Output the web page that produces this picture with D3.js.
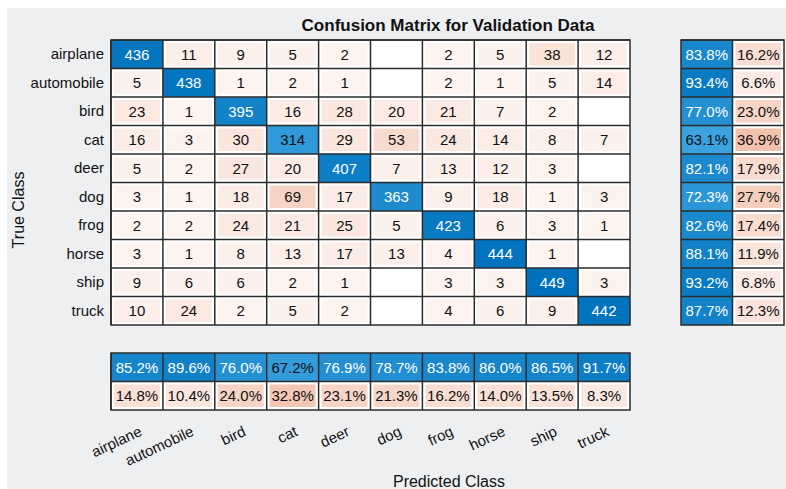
<!DOCTYPE html>
<html>
<head>
<meta charset="utf-8">
<script src="https://cdn.jsdelivr.net/npm/d3@7"></script>
<style>
	body { margin: 0; background: #fff; }
	text { font-family: "Liberation Sans", Arial, sans-serif; }
</style>
</head>
<body>
<div id="chart"></div>
<script>
/* confusion chart, validation data */
var classes = ["airplane", "automobile", "bird", "cat", "deer", "dog", "frog", "horse", "ship", "truck"];
var counts = [
	[436, 11, 9, 5, 2, 0, 2, 5, 38, 12],
	[5, 438, 1, 2, 1, 0, 2, 1, 5, 14],
	[23, 1, 395, 16, 28, 20, 21, 7, 2, 0],
	[16, 3, 30, 314, 29, 53, 24, 14, 8, 7],
	[5, 2, 27, 20, 407, 7, 13, 12, 3, 0],
	[3, 1, 18, 69, 17, 363, 9, 18, 1, 3],
	[2, 2, 24, 21, 25, 5, 423, 6, 3, 1],
	[3, 1, 8, 13, 17, 13, 4, 444, 1, 0],
	[9, 6, 6, 2, 1, 0, 3, 3, 449, 3],
	[10, 24, 2, 5, 2, 0, 4, 6, 9, 442]
];
var rowCorrect = [83.8, 93.4, 77.0, 63.1, 82.1, 72.3, 82.6, 88.1, 93.2, 87.7];
var rowWrong = [16.2, 6.6, 23.0, 36.9, 17.9, 27.7, 17.4, 11.9, 6.8, 12.3];
var colCorrect = [85.2, 89.6, 76.0, 67.2, 76.9, 78.7, 83.8, 86.0, 86.5, 91.7];
var colWrong = [14.8, 10.4, 24.0, 32.8, 23.1, 21.3, 16.2, 14.0, 13.5, 8.3];
var summaryKeys = ["correct", "wrong"];

var W = 786, H = 489;
var svg = d3.select("#chart").append("svg").attr("width", W).attr("height", H);
svg.append("rect").attr("x", 7).attr("y", 8).attr("width", W - 7).attr("height", H - 8).attr("fill", "#eeeff1");

var x = d3.scaleBand().domain(classes).range([111, 630]);
var y = d3.scaleBand().domain(classes).range([40, 325]);
var sx = d3.scaleBand().domain(summaryKeys).range([681, 784]);
var sy = d3.scaleBand().domain(summaryKeys).range([353, 410]);

var maxCount = d3.max(counts, function(r) { return d3.max(r); });
var blueT = d3.scaleLinear().domain([0.6, 1]).range([0, 1]).clamp(true);
function blue(t) { return d3.interpolateRgb("#3ea6e2", "#0072bd")(blueT(t)); }
function salmon(t) { return d3.interpolateRgb("#fdf4f0", "#d95319")(Math.min(t, 1)); }
function pct(v) { return v.toFixed(1) + "%"; }

// one cell: white box, coloured fill, label
function cell(g, cx, cy, w, h, fill, label, inset, dark) {
	g.append("rect").attr("x", cx).attr("y", cy).attr("width", w).attr("height", h).attr("fill", "#fff");
	if (fill) g.append("rect").attr("x", cx + inset).attr("y", cy + inset)
		.attr("width", w - 2 * inset).attr("height", h - 2 * inset).attr("fill", fill);
	if (label !== null) g.append("text").attr("x", cx + w / 2).attr("y", cy + h / 2).attr("dy", "0.36em")
		.attr("text-anchor", "middle").attr("font-size", 15)
		.attr("fill", dark ? "#fff" : "#111").text(label);
}

var gm = svg.append("g");
counts.forEach(function(row, i) {
	row.forEach(function(v, j) {
		var tc = classes[i], pc = classes[j];
		if (i === j) {
			cell(gm, x(pc), y(tc), x.bandwidth(), y.bandwidth(), blue(v / maxCount), v, 0, v / maxCount > 0.71);
		} else if (v === 0) {
			cell(gm, x(pc), y(tc), x.bandwidth(), y.bandwidth(), null, null, 0, false);
		} else {
			cell(gm, x(pc), y(tc), x.bandwidth(), y.bandwidth(), salmon(v / maxCount * 1.3), v, 3, false);
		}
	});
});

// grid lines
var grid = svg.append("g").attr("stroke", "#2b2b2b").attr("stroke-width", 1.5).attr("fill", "none");
classes.forEach(function(c) {
	grid.append("line").attr("x1", x(c)).attr("x2", x(c)).attr("y1", 40).attr("y2", 325);
	grid.append("line").attr("x1", 111).attr("x2", 630).attr("y1", y(c)).attr("y2", y(c));
});
grid.append("rect").attr("x", 111).attr("y", 40).attr("width", 519).attr("height", 285);

// row summary
var gr = svg.append("g");
classes.forEach(function(c, i) {
	cell(gr, sx("correct"), y(c), sx.bandwidth(), y.bandwidth(), blue(rowCorrect[i] / 100), pct(rowCorrect[i]), 0, rowCorrect[i] / 100 > 0.7);
	cell(gr, sx("wrong"), y(c), sx.bandwidth(), y.bandwidth(), salmon(rowWrong[i] / 100 * 0.85), pct(rowWrong[i]), 3, false);
	grid.append("line").attr("x1", 681).attr("x2", 784).attr("y1", y(c)).attr("y2", y(c));
});
grid.append("line").attr("x1", sx("wrong")).attr("x2", sx("wrong")).attr("y1", 40).attr("y2", 325);
grid.append("rect").attr("x", 681).attr("y", 40).attr("width", 103).attr("height", 285);

// column summary
var gc = svg.append("g");
classes.forEach(function(c, j) {
	cell(gc, x(c), sy("correct"), x.bandwidth(), sy.bandwidth(), blue(colCorrect[j] / 100), pct(colCorrect[j]), 0, colCorrect[j] / 100 > 0.7);
	cell(gc, x(c), sy("wrong"), x.bandwidth(), sy.bandwidth(), salmon(colWrong[j] / 100 * 0.85), pct(colWrong[j]), 3, false);
	grid.append("line").attr("x1", x(c)).attr("x2", x(c)).attr("y1", 353).attr("y2", 410);
});
grid.append("line").attr("x1", 111).attr("x2", 630).attr("y1", sy("wrong")).attr("y2", sy("wrong"));
grid.append("rect").attr("x", 111).attr("y", 353).attr("width", 519).attr("height", 57);
grid.raise();
gm.selectAll("text").raise();

// axes
var yAxis = svg.append("g").attr("transform", "translate(111,0)")
	.call(d3.axisLeft(y).tickSize(0).tickPadding(7));
yAxis.select(".domain").remove();
yAxis.selectAll("text").attr("font-size", 15).attr("fill", "#111");

var xAxis = svg.append("g").attr("transform", "translate(0,410)")
	.call(d3.axisBottom(x).tickSize(0).tickPadding(0));
xAxis.select(".domain").remove();
xAxis.selectAll("text").attr("font-size", 15).attr("fill", "#111")
	.attr("text-anchor", "end").attr("y", 0).attr("dy", 0)
	.attr("transform", "translate(6,25) rotate(-25)");

svg.append("text").attr("x", 448).attr("y", 31).attr("text-anchor", "middle")
	.attr("font-size", 17).attr("font-weight", "bold").attr("fill", "#111")
	.text("Confusion Matrix for Validation Data");
svg.append("text").attr("x", 449).attr("y", 487).attr("text-anchor", "middle")
	.attr("font-size", 16).attr("fill", "#111").text("Predicted Class");
svg.append("text").attr("transform", "translate(24,210) rotate(-90)").attr("text-anchor", "middle")
	.attr("font-size", 16).attr("fill", "#111").text("True Class");
</script>
</body>
</html>
